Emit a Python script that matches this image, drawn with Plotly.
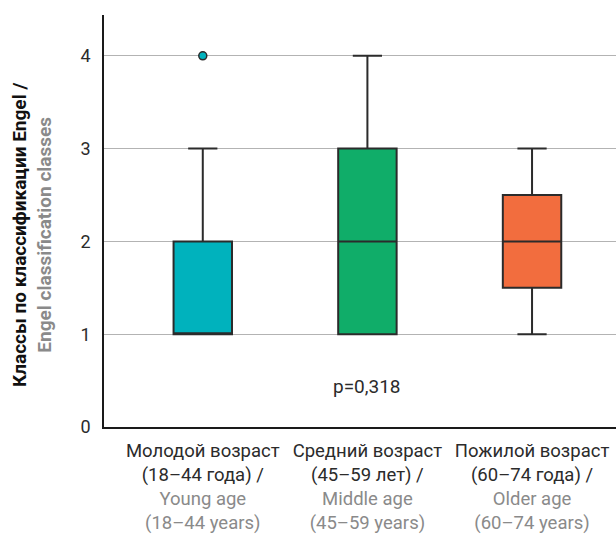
import plotly.graph_objects as go

# Engel classification by age group: box statistics
groups = ["young", "middle", "older"]
ru_labels = ["Молодой возраст<br>(18–44 года) /", "Средний возраст<br>(45–59 лет) /", "Пожилой возраст<br>(60–74 года) /"]
en_labels = ["Young age<br>(18–44 years)", "Middle age<br>(45–59 years)", "Older age<br>(60–74 years)"]
q1_vals = [1, 1, 1.5]
median_vals = [1, 2, 2]
q3_vals = [2, 3, 2.5]
lower_vals = [1, 1, 1]
upper_vals = [3, 4, 3]
outlier_group = [0]
outlier_vals = [4]
colors = ["#00B2BD", "#10AD69", "#F26D3E"]
p_text = "p=0,318"
y_title_ru = "Классы по классификации Engel /"
y_title_en = "Engel classification classes"

FONT = "Roboto, sans-serif"
LINE = "#2b2b2b"

fig = go.Figure()
for i in range(len(groups)):
    fig.add_trace(go.Box(
        x=[i], q1=[q1_vals[i]], median=[median_vals[i]], q3=[q3_vals[i]],
        lowerfence=[lower_vals[i]], upperfence=[upper_vals[i]],
        fillcolor=colors[i], line=dict(color=LINE, width=2),
        width=0.355, whiskerwidth=0.5, boxpoints=False, showlegend=False,
        hoverinfo="skip",
    ))

fig.add_trace(go.Scatter(
    x=outlier_group, y=outlier_vals, mode="markers",
    marker=dict(size=8, color=colors[0], line=dict(color=LINE, width=1.5)),
    showlegend=False, hoverinfo="skip",
))

ticktext = [
    f"<span style='color:#2b2b2b'>{r}</span><br><span style='color:#8a8a8a'>{e}</span>"
    for r, e in zip(ru_labels, en_labels)
]

fig.add_annotation(x=1, y=0.44, text=p_text, showarrow=False,
                   font=dict(family=FONT, size=19, color="#2b2b2b"))

# rotated two-line y-axis title
fig.add_annotation(
    xref="paper", yref="paper", x=-0.1406, y=0.466, textangle=-90,
    text=f"<b>{y_title_ru}</b><br><span style='color:#8a8a8a'><b>{y_title_en}</b></span>",
    showarrow=False, xanchor="center", yanchor="middle",
    font=dict(family=FONT, size=19, color="#111111"),
)

fig.update_layout(
    width=616, height=535,
    margin=dict(l=104, r=0, t=15, b=108),
    paper_bgcolor="white", plot_bgcolor="white",
    font=dict(family=FONT, size=18, color="#2b2b2b"),
    xaxis=dict(
        type="linear", range=[-0.60, 2.51],
        tickmode="array", tickvals=list(range(len(groups))), ticktext=ticktext,
        showgrid=False, zeroline=False, showline=True, linecolor="#1a1a1a", linewidth=1.5,
        ticks="", ticklen=0, ticklabelstandoff=6, tickfont=dict(family=FONT, size=18.5),
    ),
    yaxis=dict(
        range=[0, 4.44], tickvals=[0, 1, 2, 3, 4],
        showgrid=True, gridcolor="#b3b3b3", gridwidth=1.2,
        zeroline=False, showline=True, linecolor="#1a1a1a", linewidth=1.5,
        ticks="", ticklabelstandoff=8, tickfont=dict(family=FONT, size=18),
    ),
)

fig.write_html("out.html")
